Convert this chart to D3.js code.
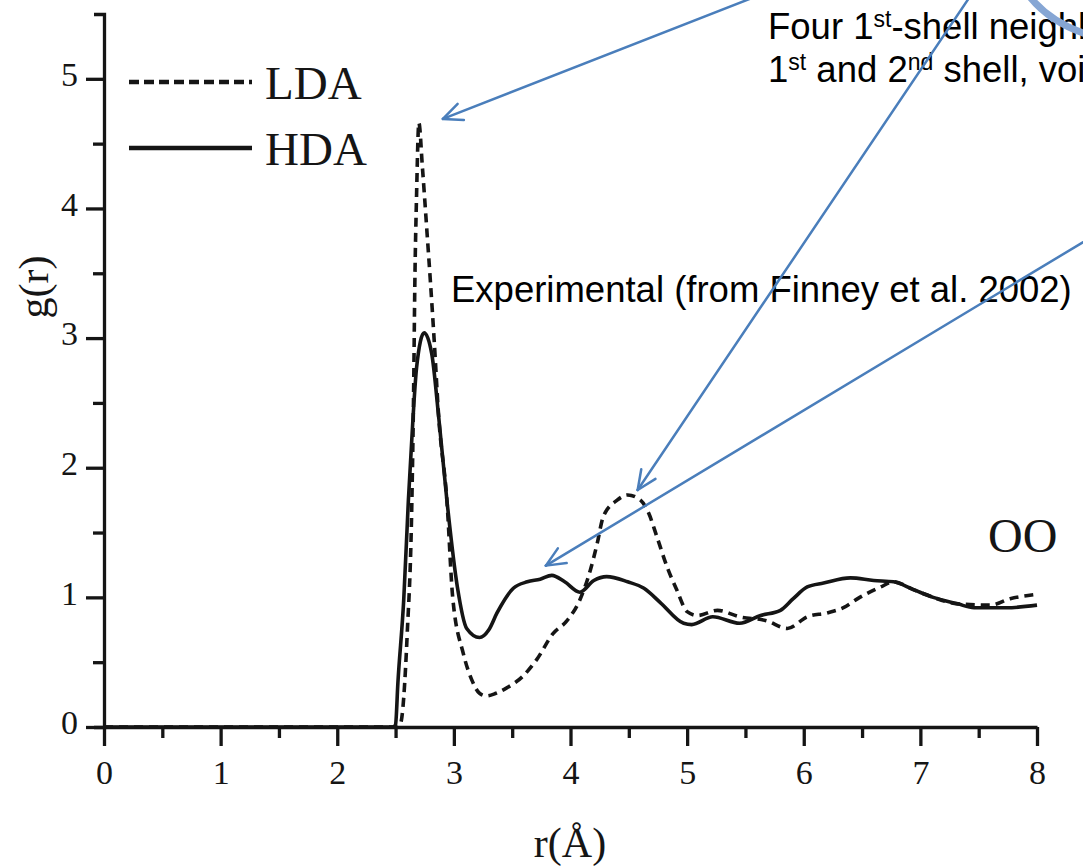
<!DOCTYPE html>
<html>
<head>
<meta charset="utf-8">
<script src="https://cdn.jsdelivr.net/npm/d3@7"></script>
<style>
  html, body { margin: 0; padding: 0; background: #fff; }
  svg { display: block; }
</style>
</head>
<body>
<svg id="chart" width="1083" height="867"></svg>
<script>
// O–O pair distribution function g(r) for low- and high-density amorphous ice

const ldaR = [0, 2.50, 2.54, 2.60, 2.64, 2.655, 2.665, 2.68, 2.70, 2.73, 2.77, 2.80, 2.83, 2.87, 2.94, 2.99,
  3.08, 3.16, 3.22, 3.28, 3.36, 3.45, 3.59, 3.71, 3.85, 3.97, 4.08, 4.17, 4.23, 4.28, 4.40, 4.49, 4.60,
  4.67, 4.74, 4.83, 4.91, 5.00, 5.09, 5.26, 5.45, 5.68, 5.86, 6.03, 6.20, 6.34, 6.48, 6.66, 6.77, 6.94,
  7.11, 7.32, 7.60, 7.77, 7.97];
const ldaG = [0, 0, 0.02, 0.72, 1.75, 2.6, 3.4, 4.1, 4.66, 4.32, 3.81, 3.42, 3.0, 2.39, 1.75, 1.0,
  0.57, 0.35, 0.26, 0.24, 0.26, 0.30, 0.39, 0.52, 0.72, 0.82, 0.98, 1.21, 1.42, 1.62, 1.75, 1.79, 1.75,
  1.65, 1.47, 1.23, 1.06, 0.89, 0.86, 0.90, 0.85, 0.82, 0.76, 0.85, 0.88, 0.92, 1.00, 1.08, 1.12, 1.06,
  1.00, 0.95, 0.94, 0.99, 1.02];

const hdaR = [0, 2.48, 2.50, 2.52, 2.57, 2.61, 2.65, 2.68, 2.745, 2.81, 2.87, 2.94, 3.03, 3.11, 3.22, 3.30,
  3.37, 3.51, 3.63, 3.74, 3.84, 3.95, 4.08, 4.20, 4.31, 4.49, 4.63, 4.77, 4.97, 5.04, 5.22, 5.45, 5.63,
  5.80, 5.91, 6.03, 6.17, 6.40, 6.60, 6.77, 6.94, 7.11, 7.32, 7.46, 7.74, 8.0];
const hdaG = [0, 0, 0.02, 0.34, 0.98, 1.75, 2.39, 2.77, 3.04, 2.88, 2.39, 1.75, 1.08, 0.76, 0.69, 0.75,
  0.88, 1.07, 1.12, 1.14, 1.17, 1.12, 1.04, 1.13, 1.16, 1.12, 1.07, 0.96, 0.80, 0.79, 0.85, 0.80, 0.86,
  0.90, 0.99, 1.08, 1.11, 1.15, 1.13, 1.12, 1.06, 1.00, 0.95, 0.92, 0.92, 0.94];

const xTicks = [0, 1, 2, 3, 4, 5, 6, 7, 8];
const yTicks = [0, 1, 2, 3, 4, 5];
const seriesNames = ["LDA", "HDA"];

const svg = d3.select("#chart");
const ink = "#151515";
const blue = "#4a7ebb";

const x = d3.scaleLinear().domain([0, 8]).range([104, 1037]);
const y = d3.scaleLinear().domain([0, 5.5]).range([727, 14]);

// axes: major ticks with labels, unlabelled minor ticks at half steps
function styleAxis(g) {
  g.selectAll("path, line").attr("stroke", ink).attr("stroke-width", 3.3);
  g.selectAll("text").attr("fill", ink)
    .style("font-family", "'Liberation Serif', 'Times New Roman', serif")
    .style("font-size", "34px");
}

const xMinor = d3.range(0.5, 8, 1);
const yMinor = d3.range(0.5, 5.5, 1);

svg.append("g").attr("transform", `translate(0,${y(0)})`)
  .call(d3.axisBottom(x).tickValues(xMinor).tickSize(11).tickFormat(""))
  .call(g => g.select(".domain").remove())
  .call(styleAxis);

svg.append("g").attr("transform", `translate(0,${y(0)})`)
  .call(d3.axisBottom(x).tickValues(xTicks).tickSize(19).tickSizeOuter(0).tickPadding(14)
    .tickFormat(d3.format("d")))
  .call(styleAxis);

svg.append("g").attr("transform", `translate(${x(0)},0)`)
  .call(d3.axisLeft(y).tickValues(yMinor).tickSize(11).tickFormat(""))
  .call(g => g.select(".domain").remove())
  .call(styleAxis);

svg.append("g").attr("transform", `translate(${x(0)},0)`)
  .call(d3.axisLeft(y).tickValues(yTicks).tickSize(18).tickSizeOuter(10).tickPadding(8)
    .tickFormat(d3.format("d")))
  .call(styleAxis)
  .call(g => g.selectAll(".tick text").attr("dy", "0.2em"));

// axis titles
svg.append("text")
  .attr("transform", "translate(48,287) rotate(-90)")
  .attr("text-anchor", "middle")
  .attr("fill", ink)
  .style("font-family", "'Liberation Serif', 'Times New Roman', serif")
  .style("font-size", "42px")
  .text("g(r)");

svg.append("text")
  .attr("x", 570).attr("y", 857)
  .attr("text-anchor", "middle")
  .attr("fill", ink)
  .style("font-family", "'Liberation Serif', 'Times New Roman', serif")
  .style("font-size", "42px")
  .text("r(Å)");

// curves
const line = d3.line().x(d => x(d[0])).y(d => y(d[1])).curve(d3.curveMonotoneX);
const hdaPts = hdaR.map((r, i) => [r, hdaG[i]]);
const ldaPts = ldaR.map((r, i) => [r, ldaG[i]]);

svg.append("path").attr("d", line(hdaPts))
  .attr("fill", "none").attr("stroke", ink).attr("stroke-width", 3.6)
  .attr("stroke-linejoin", "round");

svg.append("path").attr("d", line(ldaPts))
  .attr("fill", "none").attr("stroke", ink).attr("stroke-width", 3.6)
  .attr("stroke-dasharray", "9,6");

// legend
const legend = svg.append("g")
  .style("font-family", "'Liberation Serif', 'Times New Roman', serif")
  .style("font-size", "47px");
const legendRows = [
  { name: seriesNames[0], y: 82, dash: "10,5" },
  { name: seriesNames[1], y: 148, dash: null }
];
legendRows.forEach(row => {
  legend.append("line")
    .attr("x1", 129).attr("x2", 252).attr("y1", row.y).attr("y2", row.y)
    .attr("stroke", ink).attr("stroke-width", 4.5)
    .attr("stroke-dasharray", row.dash);
  legend.append("text")
    .attr("x", 265).attr("y", row.y + 17)
    .attr("fill", ink).text(row.name);
});

svg.append("text")
  .attr("x", 988).attr("y", 552)
  .attr("fill", ink)
  .style("font-family", "'Liberation Serif', 'Times New Roman', serif")
  .style("font-size", "48px")
  .text("OO");

// annotation text
const note = svg.append("g")
  .attr("fill", "#000")
  .style("font-family", "'Liberation Sans', Arial, sans-serif")
  .style("font-size", "36.5px");

const t1 = note.append("text").attr("x", 768).attr("y", 39);
t1.append("tspan").text("Four 1");
t1.append("tspan").attr("dy", -12).style("font-size", "23px").text("st");
t1.append("tspan").attr("dy", 12).text("-shell neighbours");

const t2 = note.append("text").attr("x", 768).attr("y", 82);
t2.append("tspan").text("1");
t2.append("tspan").attr("dy", -12).style("font-size", "23px").text("st");
t2.append("tspan").attr("dy", 12).text(" and 2");
t2.append("tspan").attr("dy", -12).style("font-size", "23px").text("nd");
t2.append("tspan").attr("dy", 12).text(" shell, voids");

note.append("text").attr("x", 451).attr("y", 302)
  .text("Experimental (from Finney et al. 2002)");

// pointer arrows
function arrow(x0, y0, x1, y1) {
  const g = svg.append("g").attr("stroke", blue).attr("stroke-width", 2.5)
    .attr("fill", "none").attr("stroke-linecap", "round");
  g.append("line").attr("x1", x0).attr("y1", y0).attr("x2", x1).attr("y2", y1);
  const a = Math.atan2(y0 - y1, x0 - x1);
  const len = 21, spread = 0.42;
  [a - spread, a + spread].forEach(t => {
    g.append("line").attr("x1", x1).attr("y1", y1)
      .attr("x2", x1 + len * Math.cos(t)).attr("y2", y1 + len * Math.sin(t));
  });
}
arrow(752, -2, x(2.70) + 24, y(4.66) - 4);
arrow(969, -2, x(4.49) + 10, y(1.79) - 5);
arrow(1090, 238, x(3.84) - 6, y(1.16) - 11);

// edge of a wider callout stroke
svg.append("path")
  .attr("d", "M1030,-3 Q1050,22 1086,34")
  .attr("fill", "none").attr("stroke", "#86a6d4").attr("stroke-width", 7);
</script>
</body>
</html>
